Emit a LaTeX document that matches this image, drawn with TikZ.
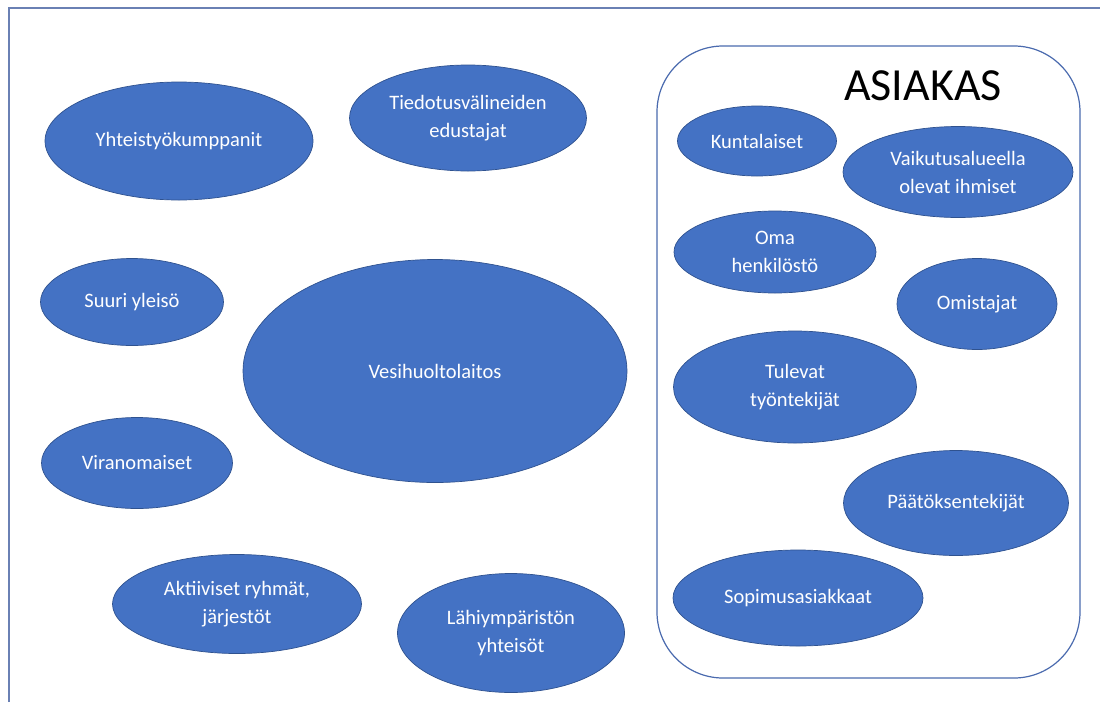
\documentclass[tikz,border=0pt]{standalone}
\usepackage{fontspec}
\setmainfont{Carlito}
\usetikzlibrary{shapes.geometric}
\definecolor{blobfill}{HTML}{4472C4}
\definecolor{blobedge}{HTML}{2F528F}
\definecolor{framecol}{HTML}{6A80B4}
\definecolor{boxcol}{HTML}{4A6AAE}
\begin{document}
\begin{tikzpicture}[x=1pt,y=-1pt,
  blob/.style={ellipse, fill=blobfill, draw=blobedge, line width=0.7pt,
    text=white, inner sep=0pt, align=center,
    font=\fontsize{20.5}{28}\selectfont},
  groupbox/.style={draw=boxcol, line width=1.2pt, rounded corners=66pt,
    inner sep=0pt, minimum width=423pt, minimum height=632pt},
  title/.style={font=\fontsize{46}{50}\selectfont, text=black, inner sep=0pt}]
\useasboundingbox (0,0) rectangle (1100,702);

% page frame (top and left edges)
\coordinate (fbl) at (9,702);
\coordinate (ftl) at (9,8);
\coordinate (ftr) at (1100,8);
\draw[framecol, line width=2pt] (fbl) -- (ftl) -- (ftr);

% customer group
\node[groupbox] (asiakasbox) at (868.5,362) {};
\node[title, anchor=base] (asiakas) at (923,100) {ASIAKAS};

% stakeholders outside the customer group
\node[blob, minimum width=268pt, minimum height=118pt] (yht) at (179,141) {Yhteistyökumppanit};
\node[blob, minimum width=237pt, minimum height=106pt] (tied) at (468,118) {Tiedotusvälineiden\\edustajat};
\node[blob, minimum width=183pt, minimum height=87pt] (suuri) at (132,302) {Suuri yleisö};
\node[blob, minimum width=384pt, minimum height=223pt] (vesi) at (435,371) {Vesihuoltolaitos};
\node[blob, minimum width=191pt, minimum height=91pt] (viran) at (137,463) {Viranomaiset};
\node[blob, minimum width=249pt, minimum height=99pt] (akt) at (237,604) {Aktiiviset ryhmät,\\järjestöt};
\node[blob, minimum width=227pt, minimum height=119pt] (lahi) at (511,633) {Lähiympäristön\\yhteisöt};

% members of the customer group
\node[blob, minimum width=159pt, minimum height=70pt] (kunta) at (757,141) {Kuntalaiset};
\node[blob, minimum width=230pt, minimum height=91pt] (vaik) at (958,172) {Vaikutusalueella\\olevat ihmiset};
\node[blob, minimum width=202pt, minimum height=82pt] (oma) at (775,252) {Oma\\henkilöstö};
\node[blob, minimum width=160pt, minimum height=91pt] (omis) at (977,304) {Omistajat};
\node[blob, minimum width=243pt, minimum height=112pt] (tulevat) at (795,387) {Tulevat\\työntekijät};
\node[blob, minimum width=225pt, minimum height=105pt] (paat) at (956,503) {Päätöksentekijät};
\node[blob, minimum width=250pt, minimum height=96pt] (sopi) at (798,598) {Sopimusasiakkaat};
\end{tikzpicture}
\end{document}
